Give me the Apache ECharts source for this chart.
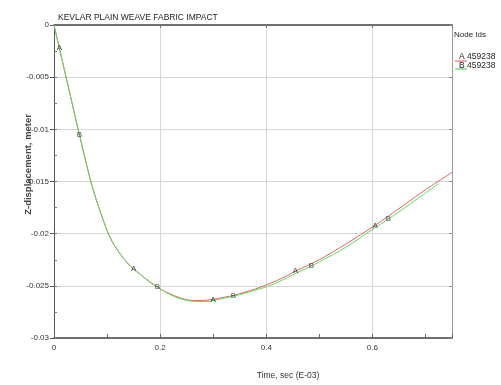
<!DOCTYPE html>
<html><head><meta charset="utf-8">
<script src="https://cdn.jsdelivr.net/npm/echarts@6/dist/echarts.min.js"></script>
<style>html,body{margin:0;padding:0;background:#fff}#c{width:501px;height:385px}</style>
</head><body><div id="c"></div>
<script>
// Node A (red)
var tA = [0, 0.01, 0.02, 0.03, 0.04, 0.05, 0.06, 0.07, 0.08, 0.09, 0.10, 0.11, 0.12, 0.13, 0.14, 0.15, 0.16, 0.18, 0.20, 0.22, 0.24, 0.26, 0.28, 0.30, 0.32, 0.34, 0.36, 0.38, 0.40, 0.42, 0.44, 0.455, 0.48, 0.50, 0.55, 0.605, 0.65, 0.70, 0.754];
var yA = [0, -0.0022, -0.0044, -0.0066, -0.0088, -0.0110, -0.0131, -0.0151, -0.0168, -0.0183, -0.0197, -0.0208, -0.0216, -0.0223, -0.0229, -0.0234, -0.0238, -0.0246, -0.0253, -0.0258, -0.0262, -0.0264, -0.0264, -0.0263, -0.0261, -0.0259, -0.0256, -0.0253, -0.0249, -0.0245, -0.0240, -0.0236, -0.0230, -0.0225, -0.0210, -0.0192, -0.0176, -0.0158, -0.0140];
// Node B (green)
var tB = [0, 0.01, 0.02, 0.03, 0.04, 0.048, 0.06, 0.07, 0.08, 0.09, 0.10, 0.11, 0.12, 0.13, 0.14, 0.15, 0.16, 0.18, 0.195, 0.21, 0.23, 0.25, 0.27, 0.29, 0.31, 0.338, 0.36, 0.38, 0.40, 0.42, 0.44, 0.46, 0.485, 0.50, 0.55, 0.60, 0.63, 0.67, 0.70, 0.725];
var yB = [0, -0.0022, -0.0044, -0.0066, -0.0088, -0.0105, -0.0131, -0.0151, -0.0168, -0.0183, -0.0197, -0.0208, -0.0216, -0.0223, -0.0229, -0.0234, -0.0238, -0.0246, -0.0251, -0.0256, -0.0261, -0.0264, -0.0265, -0.0265, -0.0263, -0.0260, -0.0257, -0.0254, -0.0251, -0.0247, -0.0242, -0.0237, -0.0231, -0.0227, -0.0213, -0.0196, -0.0186, -0.0172, -0.0161, -0.0152];
var markTimesA = [0.01, 0.15, 0.30, 0.455, 0.605];
var markTimesB = [0.048, 0.195, 0.338, 0.485, 0.63];
var xTickLabels = ['0', '0.2', '0.4', '0.6'];
var nodeName = 'Node Ids';
var nodeIdA = 'A 459238', nodeIdB = 'B 459238';

var FONT = '"Liberation Sans", Arial, sans-serif';
function pairs(t, y) { return t.map(function (v, i) { return [v, y[i]]; }); }
function marks(t, y, times) { return times.map(function (m) { var i = t.indexOf(m); return [t[i], y[i]]; }); }
function markSeries(data, letter) {
  return { type: 'scatter', data: data, symbolSize: 1, itemStyle: { color: 'rgba(0,0,0,0)' }, z: 10,
    label: { show: true, position: 'inside', formatter: letter, fontSize: 8, color: '#222', fontFamily: FONT } };
}

var chart = echarts.init(document.getElementById('c'), null, { renderer: 'canvas' });
chart.setOption({
  animation: false,
  backgroundColor: '#fff',
  title: { text: 'KEVLAR PLAIN WEAVE FABRIC IMPACT', left: 53, top: 8,
    textStyle: { fontSize: 8.5, fontWeight: 'normal', color: '#222', fontFamily: '"Liberation Sans Narrow", ' + FONT } },
  grid: { left: 54, top: 25, right: 49, bottom: 46 },
  xAxis: [
    { type: 'value', min: 0, max: 0.75, interval: 0.1, position: 'bottom',
      axisLine: { show: true, onZero: false, lineStyle: { color: '#444', width: 1.5 } },
      axisTick: { show: true, inside: true, length: 4, lineStyle: { color: '#666' } },
      axisLabel: { fontSize: 8, color: '#333', fontFamily: FONT, margin: 6,
        formatter: function (v) { var k = Math.round(v * 10); return (k % 2 === 0 && k <= 6) ? xTickLabels[k / 2] : ''; } },
      splitLine: { show: false },
      name: 'Time, sec (E-03)', nameLocation: 'middle', nameGap: 33,
      nameTextStyle: { fontSize: 8.5, color: '#333', fontFamily: FONT, padding: [0, 0, 0, 70] } },
    { type: 'value', min: 0, max: 0.75, interval: 0.2, position: 'bottom',
      axisLine: { show: false }, axisTick: { show: false }, axisLabel: { show: false },
      splitLine: { show: true, lineStyle: { color: '#d6d6d6', width: 1 } } },
    { type: 'value', min: 0, max: 0.75, interval: 0.2, position: 'top',
      axisLine: { show: true, onZero: false, lineStyle: { color: '#444', width: 1.5 } },
      axisTick: { show: true, inside: true, length: 3, lineStyle: { color: '#777' } },
      axisLabel: { show: false }, splitLine: { show: false } }
  ],
  yAxis: [
    { type: 'value', min: -0.03, max: 0, interval: 0.005, position: 'left',
      axisLine: { show: true, onZero: false, lineStyle: { color: '#555', width: 1 } },
      axisTick: { show: true, inside: false, length: 4, lineStyle: { color: '#555' } },
      axisLabel: { fontSize: 8, color: '#333', fontFamily: FONT, margin: 5,
        formatter: function (v) { return String(Math.round(v * 1000) / 1000); } },
      splitLine: { show: true, lineStyle: { color: '#d6d6d6', width: 1 } } },
    { type: 'value', min: -0.03, max: 0, interval: 0.0025, position: 'left',
      axisLine: { show: false }, axisTick: { show: true, inside: true, length: 3, lineStyle: { color: '#777' } },
      axisLabel: { show: false }, splitLine: { show: false } },
    { type: 'value', min: -0.03, max: 0, interval: 0.005, position: 'right',
      axisLine: { show: true, onZero: false, lineStyle: { color: '#999', width: 1 } },
      axisTick: { show: true, inside: true, length: 3, lineStyle: { color: '#888' } },
      axisLabel: { show: false }, splitLine: { show: false } }
  ],
  graphic: [
    { type: 'text', left: 23, top: 114, rotation: Math.PI / 2,
      style: { text: 'Z-displacement, meter', fontSize: 9.5, fill: '#444', fontFamily: FONT, fontWeight: 'bold' } },
    { type: 'text', left: 454, top: 31, style: { text: nodeName, fontSize: 8, fill: '#222', fontFamily: FONT } },
    { type: 'text', left: 459, top: 52, style: { text: nodeIdA, fontSize: 8.5, fill: '#222', fontFamily: FONT } },
    { type: 'line', shape: { x1: 455, y1: 61, x2: 467, y2: 61 }, style: { stroke: '#e05555', lineWidth: 1 } },
    { type: 'text', left: 459, top: 61, style: { text: nodeIdB, fontSize: 8.5, fill: '#222', fontFamily: FONT } },
    { type: 'line', shape: { x1: 455, y1: 69, x2: 467, y2: 69 }, style: { stroke: '#44cc44', lineWidth: 1 } }
  ],
  series: [
    { type: 'line', name: 'A', data: pairs(tA, yA), showSymbol: false, smooth: 0.3,
      lineStyle: { color: '#e06060', width: 1 }, z: 3 },
    { type: 'line', name: 'B', data: pairs(tB, yB), showSymbol: false, smooth: 0.3,
      lineStyle: { color: '#5fd85f', width: 1 }, z: 4 },
    markSeries(marks(tA, yA, markTimesA), 'A'),
    markSeries(marks(tB, yB, markTimesB), 'B')
  ]
});
</script></body></html>
